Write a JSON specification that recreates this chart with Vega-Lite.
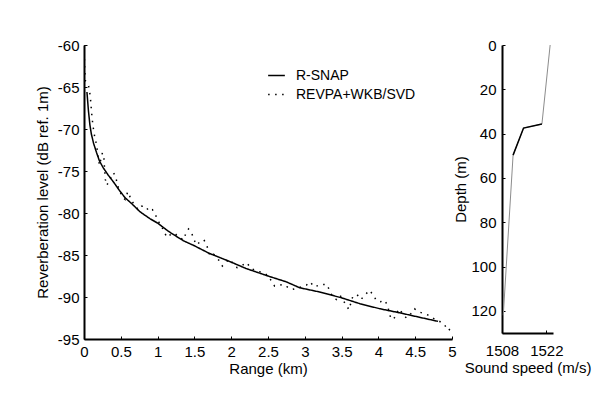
{
  "$schema": "https://vega.github.io/schema/vega-lite/v6.json",
  "background": "white",
  "padding": {"left": 35, "top": 38, "right": 5, "bottom": 5},
  "bounds": "flush",
  "spacing": 50,
  "config": {
    "font": "Liberation Sans",
    "view": {"stroke": null},
    "axis": {
      "grid": false,
      "domainColor": "black",
      "domainWidth": 2,
      "tickColor": "black",
      "tickWidth": 1,
      "tickSize": -3,
      "labelFont": "Liberation Sans",
      "titleFont": "Liberation Sans",
      "labelFontSize": 15,
      "titleFontSize": 15,
      "titleFontWeight": "normal",
      "labelColor": "black",
      "titleColor": "black",
      "labelFlush": false,
      "labelOverlap": false
    },
    "legend": {
      "labelFont": "Liberation Sans",
      "labelFontSize": 14,
      "labelColor": "black",
      "padding": 0,
      "rowPadding": 2,
      "labelOffset": 10,
      "symbolSize": 280,
      "symbolStrokeWidth": 1.5,
      "symbolStrokeColor": "black",
      "symbolType": "stroke"
    }
  },
  "datasets": {
    "reverb": [
      {"series": "R-SNAP", "range": 0.04, "level": -65.6},
      {"series": "R-SNAP", "range": 0.06, "level": -67.8},
      {"series": "R-SNAP", "range": 0.08, "level": -69.5},
      {"series": "R-SNAP", "range": 0.10, "level": -70.6},
      {"series": "R-SNAP", "range": 0.13, "level": -71.7},
      {"series": "R-SNAP", "range": 0.17, "level": -72.8},
      {"series": "R-SNAP", "range": 0.21, "level": -73.8},
      {"series": "R-SNAP", "range": 0.26, "level": -74.6},
      {"series": "R-SNAP", "range": 0.33, "level": -75.5},
      {"series": "R-SNAP", "range": 0.40, "level": -76.3},
      {"series": "R-SNAP", "range": 0.48, "level": -77.3},
      {"series": "R-SNAP", "range": 0.56, "level": -78.2},
      {"series": "R-SNAP", "range": 0.65, "level": -78.9},
      {"series": "R-SNAP", "range": 0.76, "level": -79.85},
      {"series": "R-SNAP", "range": 0.90, "level": -80.7},
      {"series": "R-SNAP", "range": 1.00, "level": -81.2},
      {"series": "R-SNAP", "range": 1.15, "level": -82.2},
      {"series": "R-SNAP", "range": 1.35, "level": -83.3},
      {"series": "R-SNAP", "range": 1.50, "level": -83.9},
      {"series": "R-SNAP", "range": 1.70, "level": -84.8},
      {"series": "R-SNAP", "range": 1.96, "level": -85.7},
      {"series": "R-SNAP", "range": 2.20, "level": -86.6},
      {"series": "R-SNAP", "range": 2.50, "level": -87.5},
      {"series": "R-SNAP", "range": 2.75, "level": -88.2},
      {"series": "R-SNAP", "range": 2.93, "level": -88.9},
      {"series": "R-SNAP", "range": 3.20, "level": -89.4},
      {"series": "R-SNAP", "range": 3.50, "level": -90.1},
      {"series": "R-SNAP", "range": 3.75, "level": -90.8},
      {"series": "R-SNAP", "range": 4.02, "level": -91.4},
      {"series": "R-SNAP", "range": 4.30, "level": -91.9},
      {"series": "R-SNAP", "range": 4.50, "level": -92.3},
      {"series": "R-SNAP", "range": 4.81, "level": -92.9},
      {"series": "REVPA+WKB/SVD", "range": 0.0, "level": -60.0},
      {"series": "REVPA+WKB/SVD", "range": 0.005, "level": -61.5},
      {"series": "REVPA+WKB/SVD", "range": 0.01, "level": -63.0},
      {"series": "REVPA+WKB/SVD", "range": 0.02, "level": -64.3},
      {"series": "REVPA+WKB/SVD", "range": 0.04, "level": -64.6},
      {"series": "REVPA+WKB/SVD", "range": 0.06, "level": -64.8},
      {"series": "REVPA+WKB/SVD", "range": 0.075, "level": -65.4},
      {"series": "REVPA+WKB/SVD", "range": 0.09, "level": -66.6},
      {"series": "REVPA+WKB/SVD", "range": 0.10, "level": -67.7},
      {"series": "REVPA+WKB/SVD", "range": 0.11, "level": -68.7},
      {"series": "REVPA+WKB/SVD", "range": 0.125, "level": -69.8},
      {"series": "REVPA+WKB/SVD", "range": 0.15, "level": -71.2},
      {"series": "REVPA+WKB/SVD", "range": 0.17, "level": -71.8},
      {"series": "REVPA+WKB/SVD", "range": 0.19, "level": -73.2},
      {"series": "REVPA+WKB/SVD", "range": 0.21, "level": -74.3},
      {"series": "REVPA+WKB/SVD", "range": 0.25, "level": -72.85},
      {"series": "REVPA+WKB/SVD", "range": 0.27, "level": -73.5},
      {"series": "REVPA+WKB/SVD", "range": 0.29, "level": -76.0},
      {"series": "REVPA+WKB/SVD", "range": 0.31, "level": -76.7},
      {"series": "REVPA+WKB/SVD", "range": 0.35, "level": -76.0},
      {"series": "REVPA+WKB/SVD", "range": 0.40, "level": -75.2},
      {"series": "REVPA+WKB/SVD", "range": 0.43, "level": -75.7},
      {"series": "REVPA+WKB/SVD", "range": 0.46, "level": -76.8},
      {"series": "REVPA+WKB/SVD", "range": 0.49, "level": -77.5},
      {"series": "REVPA+WKB/SVD", "range": 0.53, "level": -78.2},
      {"series": "REVPA+WKB/SVD", "range": 0.56, "level": -78.4},
      {"series": "REVPA+WKB/SVD", "range": 0.59, "level": -77.6},
      {"series": "REVPA+WKB/SVD", "range": 0.61, "level": -77.5},
      {"series": "REVPA+WKB/SVD", "range": 0.63, "level": -78.3},
      {"series": "REVPA+WKB/SVD", "range": 0.69, "level": -79.1},
      {"series": "REVPA+WKB/SVD", "range": 0.74, "level": -79.6},
      {"series": "REVPA+WKB/SVD", "range": 0.78, "level": -79.2},
      {"series": "REVPA+WKB/SVD", "range": 0.84, "level": -79.2},
      {"series": "REVPA+WKB/SVD", "range": 0.88, "level": -79.8},
      {"series": "REVPA+WKB/SVD", "range": 0.93, "level": -79.6},
      {"series": "REVPA+WKB/SVD", "range": 0.97, "level": -80.2},
      {"series": "REVPA+WKB/SVD", "range": 1.01, "level": -81.0},
      {"series": "REVPA+WKB/SVD", "range": 1.05, "level": -81.5},
      {"series": "REVPA+WKB/SVD", "range": 1.09, "level": -82.3},
      {"series": "REVPA+WKB/SVD", "range": 1.13, "level": -82.9},
      {"series": "REVPA+WKB/SVD", "range": 1.17, "level": -82.6},
      {"series": "REVPA+WKB/SVD", "range": 1.23, "level": -82.4},
      {"series": "REVPA+WKB/SVD", "range": 1.28, "level": -82.8},
      {"series": "REVPA+WKB/SVD", "range": 1.35, "level": -83.2},
      {"series": "REVPA+WKB/SVD", "range": 1.39, "level": -82.3},
      {"series": "REVPA+WKB/SVD", "range": 1.42, "level": -81.9},
      {"series": "REVPA+WKB/SVD", "range": 1.46, "level": -82.3},
      {"series": "REVPA+WKB/SVD", "range": 1.49, "level": -83.1},
      {"series": "REVPA+WKB/SVD", "range": 1.53, "level": -83.8},
      {"series": "REVPA+WKB/SVD", "range": 1.58, "level": -83.4},
      {"series": "REVPA+WKB/SVD", "range": 1.63, "level": -83.2},
      {"series": "REVPA+WKB/SVD", "range": 1.67, "level": -83.9},
      {"series": "REVPA+WKB/SVD", "range": 1.71, "level": -85.1},
      {"series": "REVPA+WKB/SVD", "range": 1.76, "level": -84.9},
      {"series": "REVPA+WKB/SVD", "range": 1.83, "level": -85.6},
      {"series": "REVPA+WKB/SVD", "range": 1.88, "level": -86.3},
      {"series": "REVPA+WKB/SVD", "range": 1.92, "level": -85.9},
      {"series": "REVPA+WKB/SVD", "range": 1.98, "level": -85.5},
      {"series": "REVPA+WKB/SVD", "range": 2.03, "level": -86.1},
      {"series": "REVPA+WKB/SVD", "range": 2.08, "level": -86.5},
      {"series": "REVPA+WKB/SVD", "range": 2.14, "level": -86.3},
      {"series": "REVPA+WKB/SVD", "range": 2.21, "level": -85.9},
      {"series": "REVPA+WKB/SVD", "range": 2.27, "level": -86.6},
      {"series": "REVPA+WKB/SVD", "range": 2.35, "level": -86.9},
      {"series": "REVPA+WKB/SVD", "range": 2.43, "level": -87.1},
      {"series": "REVPA+WKB/SVD", "range": 2.51, "level": -87.5},
      {"series": "REVPA+WKB/SVD", "range": 2.55, "level": -88.2},
      {"series": "REVPA+WKB/SVD", "range": 2.59, "level": -88.7},
      {"series": "REVPA+WKB/SVD", "range": 2.65, "level": -88.6},
      {"series": "REVPA+WKB/SVD", "range": 2.71, "level": -88.5},
      {"series": "REVPA+WKB/SVD", "range": 2.78, "level": -88.9},
      {"series": "REVPA+WKB/SVD", "range": 2.83, "level": -89.1},
      {"series": "REVPA+WKB/SVD", "range": 2.92, "level": -88.9},
      {"series": "REVPA+WKB/SVD", "range": 3.02, "level": -88.6},
      {"series": "REVPA+WKB/SVD", "range": 3.07, "level": -88.2},
      {"series": "REVPA+WKB/SVD", "range": 3.13, "level": -88.8},
      {"series": "REVPA+WKB/SVD", "range": 3.22, "level": -88.5},
      {"series": "REVPA+WKB/SVD", "range": 3.30, "level": -88.5},
      {"series": "REVPA+WKB/SVD", "range": 3.34, "level": -89.3},
      {"series": "REVPA+WKB/SVD", "range": 3.38, "level": -90.0},
      {"series": "REVPA+WKB/SVD", "range": 3.43, "level": -90.3},
      {"series": "REVPA+WKB/SVD", "range": 3.48, "level": -89.8},
      {"series": "REVPA+WKB/SVD", "range": 3.55, "level": -90.8},
      {"series": "REVPA+WKB/SVD", "range": 3.60, "level": -91.5},
      {"series": "REVPA+WKB/SVD", "range": 3.65, "level": -90.0},
      {"series": "REVPA+WKB/SVD", "range": 3.71, "level": -89.7},
      {"series": "REVPA+WKB/SVD", "range": 3.76, "level": -90.3},
      {"series": "REVPA+WKB/SVD", "range": 3.82, "level": -89.8},
      {"series": "REVPA+WKB/SVD", "range": 3.87, "level": -89.2},
      {"series": "REVPA+WKB/SVD", "range": 3.93, "level": -89.7},
      {"series": "REVPA+WKB/SVD", "range": 3.97, "level": -90.4},
      {"series": "REVPA+WKB/SVD", "range": 4.03, "level": -90.55},
      {"series": "REVPA+WKB/SVD", "range": 4.09, "level": -90.4},
      {"series": "REVPA+WKB/SVD", "range": 4.13, "level": -91.2},
      {"series": "REVPA+WKB/SVD", "range": 4.17, "level": -92.6},
      {"series": "REVPA+WKB/SVD", "range": 4.21, "level": -92.6},
      {"series": "REVPA+WKB/SVD", "range": 4.28, "level": -91.4},
      {"series": "REVPA+WKB/SVD", "range": 4.33, "level": -92.0},
      {"series": "REVPA+WKB/SVD", "range": 4.38, "level": -92.5},
      {"series": "REVPA+WKB/SVD", "range": 4.44, "level": -92.0},
      {"series": "REVPA+WKB/SVD", "range": 4.49, "level": -91.4},
      {"series": "REVPA+WKB/SVD", "range": 4.56, "level": -91.8},
      {"series": "REVPA+WKB/SVD", "range": 4.63, "level": -92.0},
      {"series": "REVPA+WKB/SVD", "range": 4.69, "level": -92.2},
      {"series": "REVPA+WKB/SVD", "range": 4.76, "level": -92.6},
      {"series": "REVPA+WKB/SVD", "range": 4.81, "level": -92.8},
      {"series": "REVPA+WKB/SVD", "range": 4.89, "level": -93.2},
      {"series": "REVPA+WKB/SVD", "range": 4.95, "level": -94.0},
      {"series": "REVPA+WKB/SVD", "range": 5.0, "level": -93.6}
    ],
    "profile": [
      {"speed": 1523.2, "depth": 0},
      {"speed": 1520.6, "depth": 35.7},
      {"speed": 1514.8, "depth": 37.5},
      {"speed": 1511.5, "depth": 49.7},
      {"speed": 1508.4, "depth": 122}
    ]
  },
  "hconcat": [
    {
      "width": 368,
      "height": 294,
      "data": {"name": "reverb"},
      "mark": {"type": "line", "color": "black", "strokeWidth": 1.5, "clip": true},
      "encoding": {
        "x": {
          "field": "range", "type": "quantitative",
          "scale": {"domain": [0, 5], "nice": false, "zero": false},
          "axis": {"title": "Range (km)", "values": [0, 0.5, 1, 1.5, 2, 2.5, 3, 3.5, 4, 4.5, 5], "labelExpr": "'' + datum.value", "labelPadding": 8, "titlePadding": 2}
        },
        "y": {
          "field": "level", "type": "quantitative",
          "scale": {"domain": [-95, -60], "nice": false, "zero": false},
          "axis": {"title": "Reverberation level (dB ref. 1m)", "values": [-95, -90, -85, -80, -75, -70, -65, -60], "labelExpr": "'' + datum.value", "labelPadding": 8, "titlePadding": 7}
        },
        "strokeDash": {
          "field": "series", "type": "nominal",
          "scale": {"domain": ["R-SNAP", "REVPA+WKB/SVD"], "range": [[1, 0], [1.5, 5.5]]},
          "legend": {"title": null, "orient": "none", "legendX": 183, "legendY": 21}
        }
      }
    },
    {
      "width": 51,
      "height": 288,
      "data": {"name": "profile"},
      "encoding": {
        "x": {
          "field": "speed", "type": "quantitative",
          "scale": {"domain": [1508, 1524.1], "nice": false, "zero": false},
          "axis": {"title": "Sound speed (m/s)", "values": [1508, 1522], "labelExpr": "'' + datum.value", "labelPadding": 13, "titlePadding": 2}
        },
        "y": {
          "field": "depth", "type": "quantitative",
          "scale": {"domain": [0, 130], "reverse": true, "nice": false, "zero": false},
          "axis": {"title": "Depth (m)", "values": [0, 20, 40, 60, 80, 100, 120], "labelExpr": "'' + datum.value", "labelPadding": 9, "titlePadding": 2}
        },
        "order": {"field": "depth", "type": "quantitative"}
      },
      "layer": [
        {"mark": {"type": "line", "color": "#8c8c8c", "strokeWidth": 1}},
        {
          "transform": [{"filter": "datum.depth >= 35 && datum.depth <= 50"}],
          "mark": {"type": "line", "color": "black", "strokeWidth": 1.5}
        }
      ]
    }
  ]
}
